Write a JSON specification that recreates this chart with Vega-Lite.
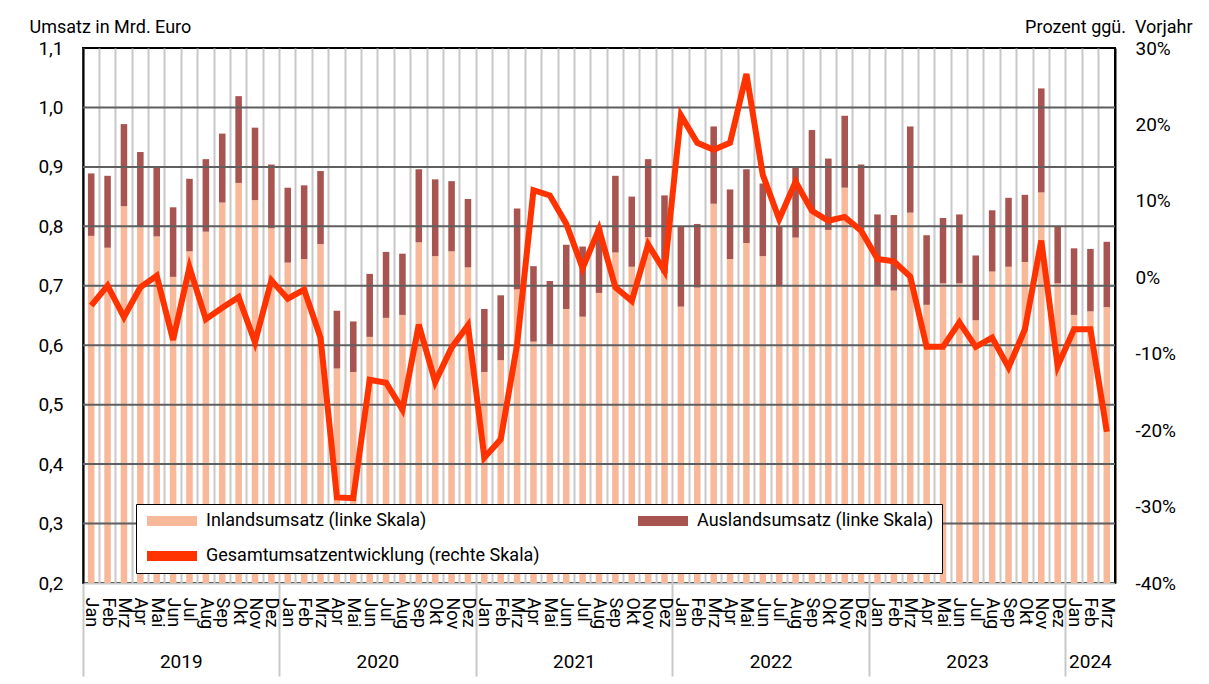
{
  "$schema": "https://vega.github.io/schema/vega-lite/v6.json",
  "width": 1032,
  "height": 535,
  "autosize": {"type": "none"},
  "padding": {"left": 83, "top": 48, "right": 94, "bottom": 101},
  "background": "white",
  "config": {
    "font": "Roboto",
    "view": {"stroke": "black", "strokeWidth": 2},
    "axis": {"labelFont": "Roboto", "titleFont": "Roboto", "labelColor": "black", "titleColor": "black", "titleFontWeight": "normal"}
  },
  "data": {"values": [
    {"m": "2019-01", "inland": 0.784, "ausland": 0.105, "chg": -3.7},
    {"m": "2019-02", "inland": 0.764, "ausland": 0.121, "chg": -1.1},
    {"m": "2019-03", "inland": 0.834, "ausland": 0.138, "chg": -5.2},
    {"m": "2019-04", "inland": 0.800, "ausland": 0.125, "chg": -1.3},
    {"m": "2019-05", "inland": 0.783, "ausland": 0.118, "chg": 0.2},
    {"m": "2019-06", "inland": 0.715, "ausland": 0.117, "chg": -8.2},
    {"m": "2019-07", "inland": 0.758, "ausland": 0.122, "chg": 1.3},
    {"m": "2019-08", "inland": 0.791, "ausland": 0.122, "chg": -5.5},
    {"m": "2019-09", "inland": 0.840, "ausland": 0.116, "chg": -4.0},
    {"m": "2019-10", "inland": 0.873, "ausland": 0.146, "chg": -2.6},
    {"m": "2019-11", "inland": 0.844, "ausland": 0.122, "chg": -8.5},
    {"m": "2019-12", "inland": 0.797, "ausland": 0.107, "chg": -0.4},
    {"m": "2020-01", "inland": 0.739, "ausland": 0.126, "chg": -2.8},
    {"m": "2020-02", "inland": 0.745, "ausland": 0.124, "chg": -1.6},
    {"m": "2020-03", "inland": 0.770, "ausland": 0.123, "chg": -7.9},
    {"m": "2020-04", "inland": 0.561, "ausland": 0.097, "chg": -28.8},
    {"m": "2020-05", "inland": 0.555, "ausland": 0.085, "chg": -28.9},
    {"m": "2020-06", "inland": 0.614, "ausland": 0.106, "chg": -13.4},
    {"m": "2020-07", "inland": 0.646, "ausland": 0.111, "chg": -13.8},
    {"m": "2020-08", "inland": 0.651, "ausland": 0.103, "chg": -17.3},
    {"m": "2020-09", "inland": 0.773, "ausland": 0.123, "chg": -6.2},
    {"m": "2020-10", "inland": 0.750, "ausland": 0.129, "chg": -13.7},
    {"m": "2020-11", "inland": 0.758, "ausland": 0.118, "chg": -9.2},
    {"m": "2020-12", "inland": 0.731, "ausland": 0.115, "chg": -6.3},
    {"m": "2021-01", "inland": 0.555, "ausland": 0.106, "chg": -23.6},
    {"m": "2021-02", "inland": 0.575, "ausland": 0.109, "chg": -21.2},
    {"m": "2021-03", "inland": 0.694, "ausland": 0.136, "chg": -8.8},
    {"m": "2021-04", "inland": 0.606, "ausland": 0.127, "chg": 11.4},
    {"m": "2021-05", "inland": 0.601, "ausland": 0.107, "chg": 10.7},
    {"m": "2021-06", "inland": 0.661, "ausland": 0.108, "chg": 7.0},
    {"m": "2021-07", "inland": 0.648, "ausland": 0.118, "chg": 1.2},
    {"m": "2021-08", "inland": 0.688, "ausland": 0.112, "chg": 6.3},
    {"m": "2021-09", "inland": 0.756, "ausland": 0.129, "chg": -1.3},
    {"m": "2021-10", "inland": 0.732, "ausland": 0.118, "chg": -3.1},
    {"m": "2021-11", "inland": 0.782, "ausland": 0.131, "chg": 4.3},
    {"m": "2021-12", "inland": 0.721, "ausland": 0.131, "chg": 0.8},
    {"m": "2022-01", "inland": 0.665, "ausland": 0.135, "chg": 21.2},
    {"m": "2022-02", "inland": 0.697, "ausland": 0.107, "chg": 17.6},
    {"m": "2022-03", "inland": 0.838, "ausland": 0.130, "chg": 16.7},
    {"m": "2022-04", "inland": 0.745, "ausland": 0.117, "chg": 17.6},
    {"m": "2022-05", "inland": 0.772, "ausland": 0.124, "chg": 26.6},
    {"m": "2022-06", "inland": 0.750, "ausland": 0.122, "chg": 13.4},
    {"m": "2022-07", "inland": 0.700, "ausland": 0.100, "chg": 7.6},
    {"m": "2022-08", "inland": 0.781, "ausland": 0.118, "chg": 12.5},
    {"m": "2022-09", "inland": 0.827, "ausland": 0.135, "chg": 8.7},
    {"m": "2022-10", "inland": 0.794, "ausland": 0.120, "chg": 7.4},
    {"m": "2022-11", "inland": 0.865, "ausland": 0.121, "chg": 7.9},
    {"m": "2022-12", "inland": 0.795, "ausland": 0.109, "chg": 6.1},
    {"m": "2023-01", "inland": 0.700, "ausland": 0.120, "chg": 2.4},
    {"m": "2023-02", "inland": 0.692, "ausland": 0.127, "chg": 2.1},
    {"m": "2023-03", "inland": 0.823, "ausland": 0.145, "chg": 0.1},
    {"m": "2023-04", "inland": 0.668, "ausland": 0.117, "chg": -9.1},
    {"m": "2023-05", "inland": 0.704, "ausland": 0.110, "chg": -9.1},
    {"m": "2023-06", "inland": 0.704, "ausland": 0.116, "chg": -5.9},
    {"m": "2023-07", "inland": 0.642, "ausland": 0.109, "chg": -9.1},
    {"m": "2023-08", "inland": 0.724, "ausland": 0.103, "chg": -7.9},
    {"m": "2023-09", "inland": 0.732, "ausland": 0.116, "chg": -11.8},
    {"m": "2023-10", "inland": 0.740, "ausland": 0.113, "chg": -6.8},
    {"m": "2023-11", "inland": 0.857, "ausland": 0.175, "chg": 4.8},
    {"m": "2023-12", "inland": 0.704, "ausland": 0.095, "chg": -11.6},
    {"m": "2024-01", "inland": 0.651, "ausland": 0.112, "chg": -6.8},
    {"m": "2024-02", "inland": 0.657, "ausland": 0.105, "chg": -6.8},
    {"m": "2024-03", "inland": 0.664, "ausland": 0.110, "chg": -20.2}
  ]},
  "resolve": {"scale": {"y": "independent"}},
  "layer": [
    {
      "transform": [{"fold": ["inland", "ausland"], "as": ["key", "val"]}],
      "mark": {"type": "bar", "clip": true, "width": {"band": 0.4}},
      "encoding": {
        "x": {
          "field": "m", "type": "ordinal",
          "scale": {"paddingInner": 0, "paddingOuter": 0},
          "axis": {
            "orient": "bottom", "title": null,
            "labelExpr": "['Jan','Feb','Mrz','Apr','Mai','Jun','Jul','Aug','Sep','Okt','Nov','Dez'][toNumber(slice(datum.value, 5)) - 1]",
            "labelAngle": 90, "labelAlign": "left", "labelBaseline": "middle",
            "labelFontSize": 18, "labelPadding": -79, "labelOverlap": false,
            "ticks": true, "bandPosition": 0, "tickSize": 93, "tickWidth": 2,
            "tickColor": {"condition": {"test": "slice(datum.value, 5) === '01'", "value": "#c8c8c8"}, "value": "rgba(0,0,0,0)"},
            "grid": true, "gridColor": "#c8c8c8", "gridWidth": 2,
            "domain": true, "domainColor": "#c8c8c8", "domainWidth": 2
          }
        },
        "y": {
          "field": "val", "type": "quantitative", "stack": "zero",
          "scale": {"domain": [0.2, 1.1], "nice": false, "zero": false},
          "axis": {
            "orient": "left", "values": [0.2, 0.3, 0.4, 0.5, 0.6, 0.7, 0.8, 0.9, 1.0, 1.1],
            "labelExpr": "replace(format(datum.value, '.1f'), '.', ',')",
            "labelFontSize": 19, "labelPadding": 20, "labelFlush": false, "labelOverlap": false,
            "ticks": false, "grid": false,
            "domain": true, "domainColor": "black", "domainWidth": 2,
            "title": "Umsatz in Mrd. Euro", "titleAngle": 0, "titleAlign": "left", "titleBaseline": "alphabetic",
            "titleX": -54, "titleY": -16, "titleFontSize": 18
          }
        },
        "color": {
          "field": "key", "type": "nominal",
          "scale": {"domain": ["inland", "gesamt", "ausland"], "range": ["#f8b99b", "#ff3300", "#a85450"]},
          "legend": {
            "orient": "none", "legendX": 53, "legendY": 456,
            "columns": 2, "columnPadding": 95, "rowPadding": 17,
            "padding": 8, "fillColor": "white", "strokeColor": "black",
            "title": null,
            "labelFontSize": 18, "labelColor": "black", "labelLimit": 1000, "labelOffset": 44,
            "labelExpr": "datum.label == 'inland' ? 'Inlandsumsatz (linke Skala)' : datum.label == 'ausland' ? 'Auslandsumsatz (linke Skala)\u2003\u2003\u2003\u2003\u2003\u2003\u2003\u2003' : 'Gesamtumsatzentwicklung (rechte Skala)'",
            "symbolSize": 144, "symbolStrokeWidth": 0,
            "symbolType": "M-1,-0.85L7.333,-0.85L7.333,0.85L-1,0.85Z"
          }
        },
        "order": {"field": "key", "sort": "descending"}
      }
    },
    {
      "data": {"values": [{"g": 0.3}, {"g": 0.4}, {"g": 0.5}, {"g": 0.6}, {"g": 0.7}, {"g": 0.8}, {"g": 0.9}, {"g": 1.0}]},
      "mark": {"type": "rule", "color": "#5f5f5f", "strokeWidth": 2},
      "encoding": {"y": {"field": "g", "type": "quantitative", "scale": {"domain": [0.2, 1.1], "nice": false, "zero": false}, "axis": null}}
    },
    {
      "mark": {"type": "line", "strokeWidth": 6, "strokeJoin": "miter"},
      "encoding": {
        "x": {"field": "m", "type": "ordinal"},
        "y": {
          "field": "chg", "type": "quantitative",
          "scale": {"domain": [-40, 30], "nice": false, "zero": false},
          "axis": {
            "orient": "right", "values": [-40, -30, -20, -10, 0, 10, 20, 30],
            "labelExpr": "datum.value + '%'",
            "labelFontSize": 19, "labelPadding": 20, "labelAlign": "left", "labelFlush": false, "labelOverlap": false,
            "ticks": false, "grid": false,
            "domain": true, "domainColor": "black", "domainWidth": 2,
            "title": "Prozent ggü.\u00a0 Vorjahr", "titleAngle": 0, "titleAlign": "right", "titleBaseline": "alphabetic",
            "titleX": 77, "titleY": -16, "titleFontSize": 18
          }
        },
        "color": {"datum": "gesamt"}
      }
    },
    {
      "data": {"values": [{"year": "2019", "m": "2019-06"}, {"year": "2020", "m": "2020-06"}, {"year": "2021", "m": "2021-06"}, {"year": "2022", "m": "2022-06"}, {"year": "2023", "m": "2023-06"}]},
      "mark": {"type": "text", "fontSize": 19, "color": "black", "baseline": "middle", "align": "center"},
      "encoding": {
        "x": {"field": "m", "type": "ordinal", "bandPosition": 1},
        "y": {"datum": 0.067, "type": "quantitative", "scale": {"domain": [0.2, 1.1], "nice": false, "zero": false}, "axis": null},
        "text": {"field": "year"}
      }
    },
    {
      "data": {"values": [{"year": "2024", "m": "2024-02"}]},
      "mark": {"type": "text", "fontSize": 19, "color": "black", "baseline": "middle", "align": "center"},
      "encoding": {
        "x": {"field": "m", "type": "ordinal", "bandPosition": 0.5},
        "y": {"datum": 0.067, "type": "quantitative", "scale": {"domain": [0.2, 1.1], "nice": false, "zero": false}, "axis": null},
        "text": {"field": "year"}
      }
    }
  ]
}
